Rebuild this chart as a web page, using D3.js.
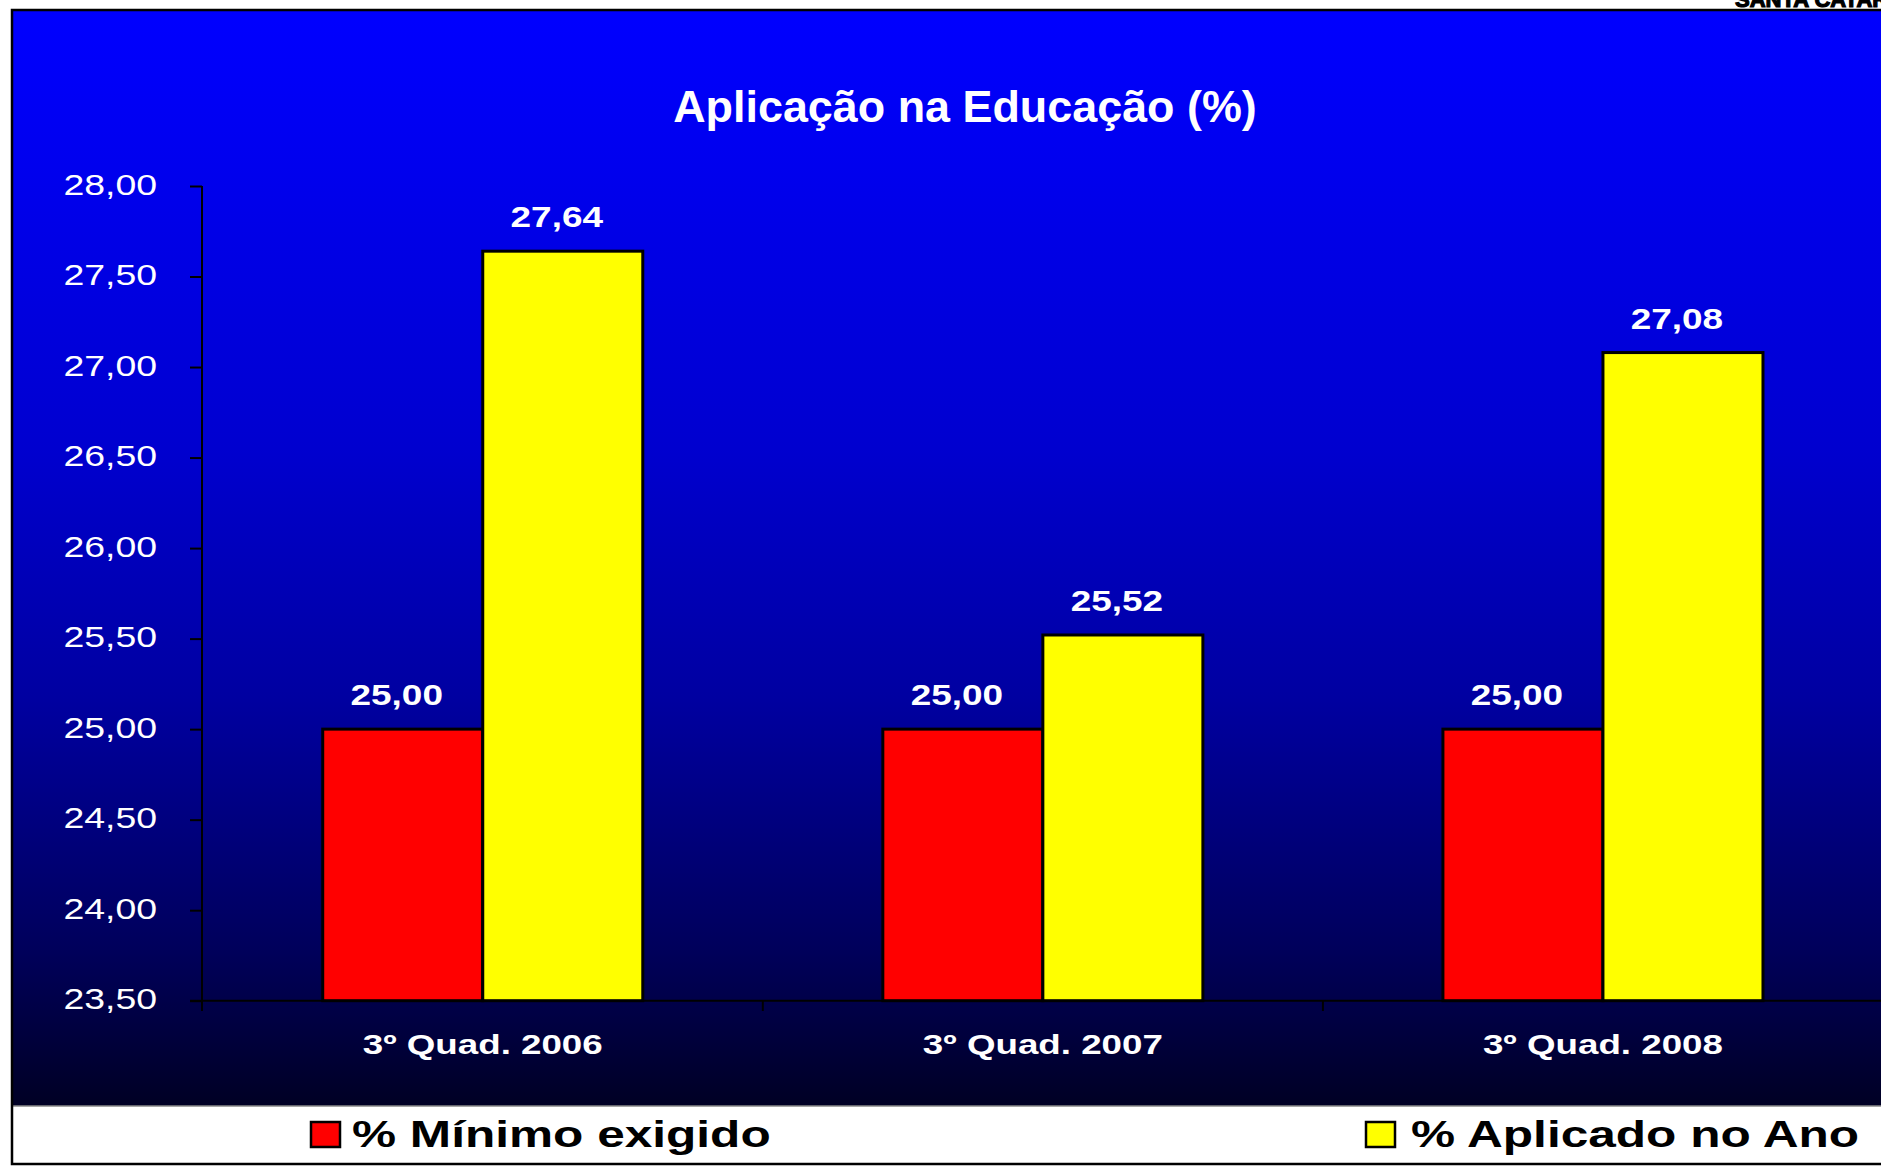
<!DOCTYPE html>
<html>
<head>
<meta charset="utf-8">
<script src="https://cdn.jsdelivr.net/npm/d3@7"></script>
<style>
  body { margin: 0; background: #fff; }
  text { font-family: Arial, "Liberation Sans", sans-serif; }
</style>
</head>
<body>
<svg id="svg"></svg>
<script>
// chart data
const categories = ["3º Quad. 2006", "3º Quad. 2007", "3º Quad. 2008"];
const seriesNames = ["% Mínimo exigido", "% Aplicado no Ano"];
const minimo = [25.00, 25.00, 25.00];
const aplicado = [27.64, 25.52, 27.08];
const yTicks = [23.5, 24, 24.5, 25, 25.5, 26, 26.5, 27, 27.5, 28];
const seriesColors = ["#ff0000", "#ffff00"];

let width = 1881, height = 1166;
let svg = d3.select("#svg").attr("width", width).attr("height", height);

const ptBR = d3.formatLocale({ decimal: ",", thousands: ".", grouping: [3], currency: ["R$", ""] });
const fmt = ptBR.format(".2f");

// excel text is drawn wider than normal, so stretch it a bit
function stretch(sel, k) {
    sel.each(function() {
        let w = this.getComputedTextLength();
        d3.select(this).attr("textLength", w * k).attr("lengthAdjust", "spacingAndGlyphs");
    });
}

// background gradient
let defs = svg.append("defs");
let grad = defs.append("linearGradient").attr("id", "bg")
    .attr("x1", 0).attr("y1", 0).attr("x2", 0).attr("y2", 1);
grad.append("stop").attr("offset", "0%").attr("stop-color", "#0000ff");
grad.append("stop").attr("offset", "40%").attr("stop-color", "#0000cf");
grad.append("stop").attr("offset", "63%").attr("stop-color", "#0000a0");
grad.append("stop").attr("offset", "86%").attr("stop-color", "#00005a");
grad.append("stop").attr("offset", "100%").attr("stop-color", "#000024");

// little heading cut at the top right (it is cut in the original too)
svg.append("text")
    .attr("x", 1735).attr("y", 7)
    .attr("font-size", 22).attr("font-weight", 900)
    .attr("fill", "#000").attr("stroke", "#000").attr("stroke-width", 1.2)
    .text("SANTA CATARINA")
    .call(stretch, 1.0);

svg.append("rect").attr("x", 12).attr("y", 11).attr("width", width).attr("height", 1095)
    .attr("fill", "url(#bg)");
svg.append("rect").attr("x", 12).attr("y", 1106).attr("width", width).attr("height", 58)
    .attr("fill", "#fff");
svg.append("line").attr("x1", 12).attr("x2", width).attr("y1", 1106).attr("y2", 1106)
    .attr("stroke", "#888").attr("stroke-width", 1.5);
svg.append("rect").attr("x", 12).attr("y", 10).attr("width", width + 10).attr("height", 1154)
    .attr("fill", "none").attr("stroke", "#000").attr("stroke-width", 2.5);

// title
svg.append("text")
    .attr("x", 965).attr("y", 122)
    .attr("text-anchor", "middle")
    .attr("font-size", 44).attr("font-weight", "bold")
    .attr("fill", "#fff")
    .text("Aplicação na Educação (%)")
    .call(stretch, 1.02);

// scales
let y = d3.scaleLinear().domain([23.5, 28]).range([1000.7, 186]);
let x0 = d3.scaleBand().domain(categories).range([202.7, 1883]).padding(0);
let x1 = d3.scaleBand().domain(seriesNames).range([0, x0.bandwidth()]).paddingOuter(0.75).paddingInner(0);

// y axis
let yAxis = svg.append("g")
    .attr("transform", "translate(202,0)")
    .call(d3.axisLeft(y).tickValues(yTicks).tickFormat(fmt).tickSize(12).tickSizeOuter(0).tickPadding(33));
yAxis.select(".domain").remove();
yAxis.selectAll(".tick line").attr("stroke", "#000").attr("stroke-width", 2);
yAxis.selectAll(".tick text")
    .attr("fill", "#fff").attr("font-size", 29)
    .attr("dy", "0.28em")
    .attr("font-family", "Arial, 'Liberation Sans', sans-serif")
    .call(stretch, 1.29);
svg.append("line").attr("x1", 202).attr("x2", 202).attr("y1", y(28)).attr("y2", 1011)
    .attr("stroke", "#000").attr("stroke-width", 2);

// x axis
svg.append("line").attr("x1", 190).attr("x2", width).attr("y1", y(23.5)).attr("y2", y(23.5))
    .attr("stroke", "#000").attr("stroke-width", 2);
svg.append("g").selectAll("line")
    .data(categories.slice(1))
    .join("line")
    .attr("x1", d => x0(d)).attr("x2", d => x0(d))
    .attr("y1", y(23.5)).attr("y2", 1011)
    .attr("stroke", "#000").attr("stroke-width", 2);
svg.append("g").selectAll("text")
    .data(categories)
    .join("text")
    .attr("x", d => x0(d) + x0.bandwidth() / 2)
    .attr("y", 1054)
    .attr("text-anchor", "middle")
    .attr("font-size", 27).attr("font-weight", "bold")
    .attr("fill", "#fff")
    .text(d => d)
    .call(stretch, 1.36);

// bars
let rows = categories.map((c, i) => ({ cat: c, values: [minimo[i], aplicado[i]] }));
let groups = svg.append("g").selectAll("g")
    .data(rows)
    .join("g")
    .attr("transform", d => `translate(${x0(d.cat)},0)`);

groups.selectAll("rect")
    .data(d => d.values.map((v, j) => ({ name: seriesNames[j], v: v, j: j })))
    .join("rect")
    .attr("x", d => x1(d.name))
    .attr("y", d => y(d.v))
    .attr("width", x1.bandwidth())
    .attr("height", d => y(23.5) - y(d.v))
    .attr("fill", d => seriesColors[d.j])
    .attr("stroke", "#000").attr("stroke-width", 3);

// value labels sit a little left of the bar centre in the original
groups.selectAll("text")
    .data(d => d.values.map((v, j) => ({ name: seriesNames[j], v: v })))
    .join("text")
    .attr("x", d => x1(d.name) + x1.bandwidth() / 2 - 6)
    .attr("y", d => y(d.v) - 24)
    .attr("text-anchor", "middle")
    .attr("font-size", 30).attr("font-weight", "bold")
    .attr("fill", "#fff")
    .text(d => fmt(d.v))
    .call(stretch, 1.23);

// legend
let legendX = [311, 1366];
let legend = svg.append("g").selectAll("g")
    .data(seriesNames)
    .join("g")
    .attr("transform", (d, i) => `translate(${legendX[i]},0)`);
legend.append("rect")
    .attr("x", 0).attr("y", 1122).attr("width", 29).attr("height", 25)
    .attr("fill", (d, i) => seriesColors[i])
    .attr("stroke", "#000").attr("stroke-width", 2.5);
legend.append("text")
    .attr("x", (d, i) => i == 0 ? 41 : 45).attr("y", 1147)
    .attr("font-size", 37).attr("font-weight", "bold")
    .attr("fill", "#000")
    .text(d => d)
    .call(stretch, 1.34);
</script>
</body>
</html>
